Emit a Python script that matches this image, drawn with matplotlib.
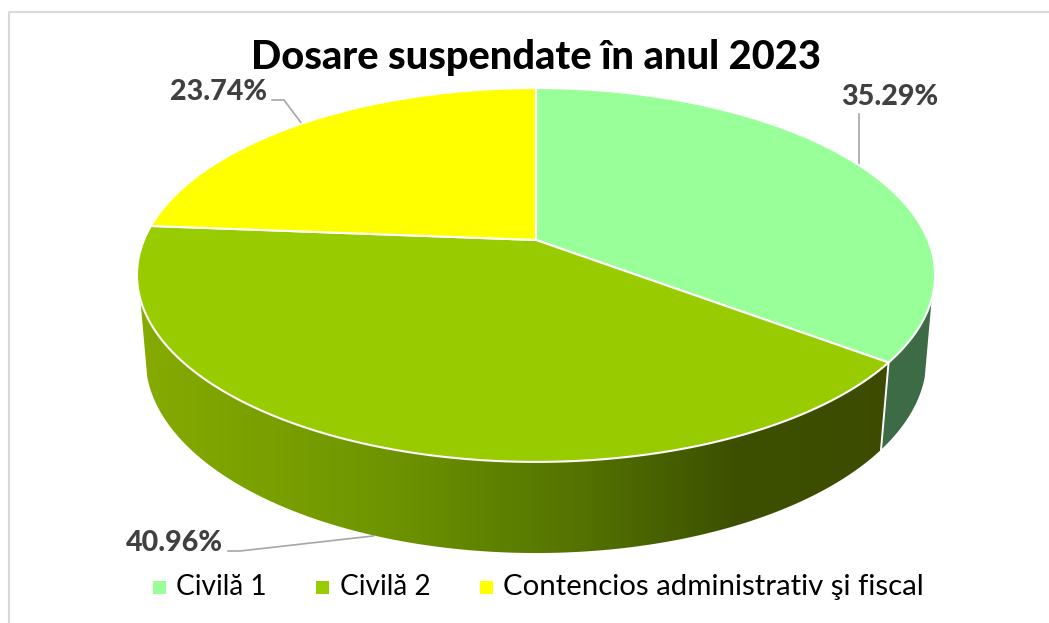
import numpy as np
import matplotlib
matplotlib.use("Agg")
import matplotlib.pyplot as plt
from matplotlib.colors import LinearSegmentedColormap
from matplotlib.patches import Polygon, Rectangle

plt.rcParams["font.family"] = ["Lato", "DejaVu Sans"]

# data
title = "Dosare suspendate în anul 2023"
categories = ["Civilă 1", "Civilă 2", "Contencios administrativ şi fiscal"]
values = [35.29, 40.96, 23.74]
labels = ["35.29%", "40.96%", "23.74%"]
colors = ["#99ff99", "#99cc00", "#ffff00"]

# perspective of the pie, in pixels
CX = 536
K = 0.187


def top_rim(theta):
    u, v = np.sin(theta), np.cos(theta)
    return CX + 392 * u / (1 + K * v), 240 - 180.4 * v / (1 + K * v)


def bottom_rim(theta):
    u, v = np.sin(theta), np.cos(theta)
    return CX + 383.6 * u / (1 + K * v), 322.4 - 187.5 * v / (1 + K * v)


def arc(rim, a, b, n=200):
    x, y = rim(np.radians(np.linspace(a, b, n)))
    return np.column_stack([x, y])


fig = plt.figure(figsize=(10.49, 6.23), dpi=100)
ax = fig.add_axes([0, 0, 1, 1])

edges = np.concatenate([[0], np.cumsum(values)]) / sum(values) * 360

# side walls
split = edges[1]
wall1 = np.vstack([arc(top_rim, 108, split), arc(bottom_rim, split, 106)])
ax.add_patch(Polygon(wall1, closed=True, facecolor="#3d6b45", edgecolor="none", zorder=2))

wall2 = np.vstack([arc(top_rim, split, 252), arc(bottom_rim, 254, split)])
wall2_patch = Polygon(wall2, closed=True, facecolor="none", edgecolor="none", zorder=2)
ax.add_patch(wall2_patch)
cmap = LinearSegmentedColormap.from_list(
    "wall", [(0, "#86ab00"), (0.3, "#6f9600"), (0.56, "#537200"), (0.75, "#3d5000"), (1, "#3c4a00")]
)
grad = np.linspace(0, 1, 512).reshape(1, -1)
im = ax.imshow(grad, extent=(137, 935, 560, 280), cmap=cmap, aspect="auto", zorder=2)
im.set_clip_path(wall2_patch)

# line between the two walls
tx, ty = top_rim(np.radians(split))
bx, by = bottom_rim(np.radians(split))
ax.plot([tx, bx], [ty, by], color="white", lw=1.4, zorder=3)

# top face
for i in range(len(values)):
    rim = arc(top_rim, edges[i], edges[i + 1])
    pts = np.vstack([[CX, 240], rim])
    ax.add_patch(Polygon(pts, closed=True, facecolor=colors[i], edgecolor="white", lw=1.5,
                         joinstyle="round", zorder=4))

# leader lines
leader = "#a6a6a6"
ax.plot([859, 859], [114, 165], color=leader, lw=1.2, zorder=1)
ax.plot([228, 240, 373], [551, 551, 536], color=leader, lw=1.2, zorder=1)
ax.plot([272, 284, 302], [100, 100, 124], color=leader, lw=1.2, zorder=1)

# data labels
label_x = [889.5, 174.5, 218.5]
label_y = [97, 543, 92]
for x, y, s in zip(label_x, label_y, labels):
    ax.text(x, y, s, ha="center", va="center", fontsize=20.6, fontweight=900, color="#404040", zorder=5)

ax.text(536, 58, title, ha="center", va="center", fontsize=28.6, fontweight=900, color="black", zorder=5)

# legend
swatch_x = [153, 316, 480]
text_x = [176, 340, 503]
legend_size = [20.2, 20.2, 21.2]
for i in range(len(categories)):
    ax.add_patch(Rectangle((swatch_x[i], 581), 12.5, 12.5, facecolor=colors[i], edgecolor="none"))
    ax.text(text_x[i], 587, categories[i], ha="left", va="center", fontsize=legend_size[i], color="black")

# chart frame
ax.plot([9, 9, 1049], [623, 12, 12], color="#d9d9d9", lw=1.5, zorder=0)

ax.set_xlim(0, 1049)
ax.set_ylim(623, 0)
ax.axis("off")

fig.savefig("out.png", dpi=100)
